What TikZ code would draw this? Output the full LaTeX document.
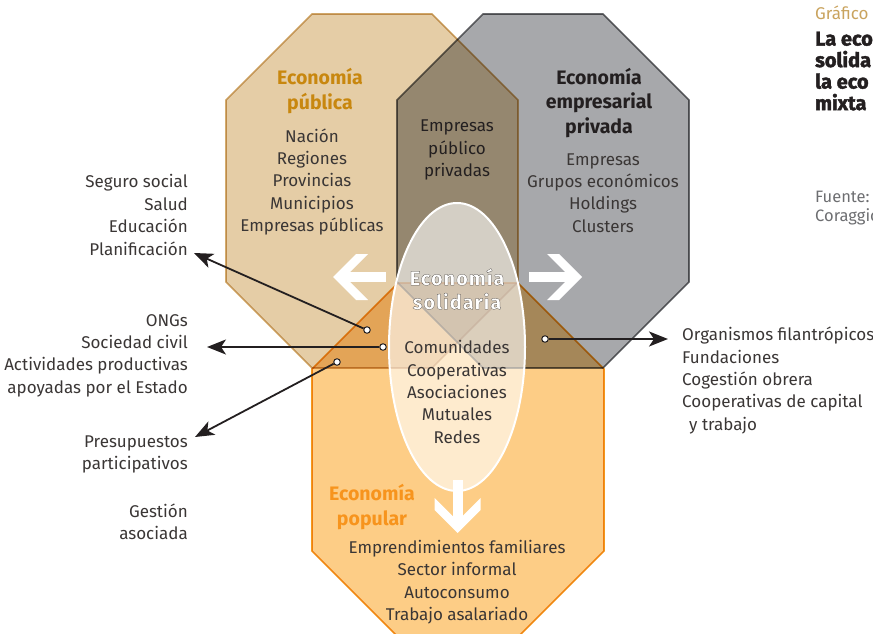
\documentclass[tikz,border=0pt]{standalone}
\usepackage{fontspec}
\setmainfont{Fira Sans}
\newfontfamily\titlefont{Fira Sans}[BoldFeatures={FakeBold=2}]
\newfontfamily\solfont{Fira Sans}[LetterSpace=5,BoldFeatures={FakeBold=1.2}]
\usetikzlibrary{arrows.meta}
\definecolor{tanfill}{HTML}{E5CDA6}
\definecolor{tanline}{HTML}{D3AC6F}
\definecolor{grayfill}{HTML}{A7A8AB}
\definecolor{grayline}{HTML}{6E6F72}
\definecolor{orfill}{HTML}{FDCD86}
\definecolor{orline}{HTML}{F29C1E}
\definecolor{pubhead}{HTML}{C8870F}
\definecolor{pophead}{HTML}{F7941D}
\definecolor{txt}{HTML}{3A3635}
\definecolor{lk}{HTML}{231F20}
\definecolor{gtitle}{HTML}{C9A35E}
\definecolor{fuente}{HTML}{6D6E71}
\newcommand\solout[1]{\special{pdf:literal direct 2 Tr 0.5 w 0.30 0.28 0.26 RG}#1\special{pdf:literal direct 0 Tr}}
\begin{document}
\begin{tikzpicture}[x=1pt,y=-1pt,
  body/.style={font=\fontsize{17}{22.4}\selectfont, text=txt, inner sep=0pt, align=center},
  head/.style={font=\fontsize{19.5}{24.5}\selectfont\bfseries, inner sep=0pt, align=center},
  oct/.style={line width=1.6pt, line join=miter},
  dot/.style={circle, draw=lk, fill=white, line width=1pt, minimum size=6.5pt, inner sep=0pt},
  link/.style={draw=lk, line width=1.8pt, -{Stealth[length=19pt,width=15pt,inset=5pt]}},
  chev/.pic={\fill[white] (0,-5) rectangle (44,5);
             \fill[white] (53,0) -- (30,23) -- (18,23) -- (41,0) -- (18,-23) -- (30,-23) -- cycle;}]
\useasboundingbox (0,0) rectangle (873,634);
\clip (0,0) rectangle (873,634);
% octagons
\begin{scope}[blend mode=multiply]
\filldraw[oct, fill=tanfill, draw=tanline] (312,14) -- (432,14) -- (518,100) -- (518,282) -- (432,368) -- (312,368) -- (226,282) -- (226,100) -- cycle;
\filldraw[oct, fill=grayfill, draw=grayline] (483,14) -- (603,14) -- (689,100) -- (689,282) -- (603,368) -- (483,368) -- (397,282) -- (397,100) -- cycle;
\filldraw[oct, fill=orfill, draw=orline] (398,283) -- (518,283) -- (604,369) -- (604,551) -- (518,637) -- (398,637) -- (312,551) -- (312,369) -- cycle;
\end{scope}
% solidarity ellipse
\draw[white, line width=2pt, fill=white, fill opacity=0.6] (457,347) ellipse [x radius=68, y radius=144];
% white arrows
\pic at (529,277) {chev};
\pic[xscale=-1] at (386,277) {chev};
\pic[rotate=-90] at (457.5,480) {chev};
% texts in the diagram
\node[head, text=pubhead] (pubh) at (320,91) {Economía\\pública};
\node[body] (pubb) at (312,182) {Nación\\Regiones\\Provincias\\Municipios\\Empresas públicas};
\node[head, text=lk] (privh) at (599,103) {Economía\\empresarial\\privada};
\node[body] (privb) at (603,193) {Empresas\\Grupos económicos\\Holdings\\Clusters};
\node[body, text=lk] (mix) at (457,150) {Empresas\\público\\privadas};
\node[head, font=\fontsize{20}{24}\selectfont\solfont\bfseries, text=white] (solh) at (457,289) {\solout{Economía}\\\solout{solidaria}};
\node[body] (solb) at (457,392) {Comunidades\\Cooperativas\\Asociaciones\\Mutuales\\Redes};
\node[head, text=pophead] (poph) at (372,507) {Economía\\popular};
\node[body] (popb) at (457,582) {Emprendimientos familiares\\Sector informal\\Autoconsumo\\Trabajo asalariado};
% side labels
\node[body, align=right, anchor=east] (l1) at (188,215) {Seguro social\\Salud\\Educación\\Planificación};
\node[body, align=right, anchor=east] (l2) at (188,355.5) {ONGs\\Sociedad civil\\Actividades productivas\\apoyadas por el Estado};
\node[body, align=right, anchor=east] (l3) at (188,454.5) {Presupuestos\\participativos};
\node[body, align=right, anchor=east] (l4) at (188,522) {Gestión\\asociada};
\node[body, align=left, anchor=west] (r1) at (682,380.5) {Organismos filantrópicos\\Fundaciones\\Cogestión obrera\\Cooperativas de capital\\\hspace*{7pt}y trabajo};
% connectors
\node[dot] (d1) at (367,330) {};
\node[dot] (d2) at (383,347) {};
\node[dot] (d3) at (337,362) {};
\node[dot] (d4) at (545,339) {};
\coordinate (t1) at (194,253);
\coordinate (t2) at (207,347);
\coordinate (t3) at (195,437);
\coordinate (t4) at (668,339);
\draw[link] (d1) -- (t1);
\draw[link] (d2) -- (t2);
\draw[link] (d3) -- (t3);
\draw[link] (d4) -- (t4);
% title block
\node[anchor=base west, inner sep=0pt, font=\fontsize{17}{20}\selectfont, text=gtitle] (graf) at (815,20) {Gráfico};
\node[anchor=north west, inner sep=0pt, font=\fontsize{20}{21.5}\selectfont\titlefont\bfseries, text=lk, align=left] (title) at (815,31.5) {La eco\\solida\\la eco\\mixta};
\node[anchor=north west, inner sep=0pt, font=\fontsize{16.5}{19.5}\selectfont, text=fuente, align=left] (src) at (815,190.5) {Fuente:\\Coraggio};
\end{tikzpicture}
\end{document}
